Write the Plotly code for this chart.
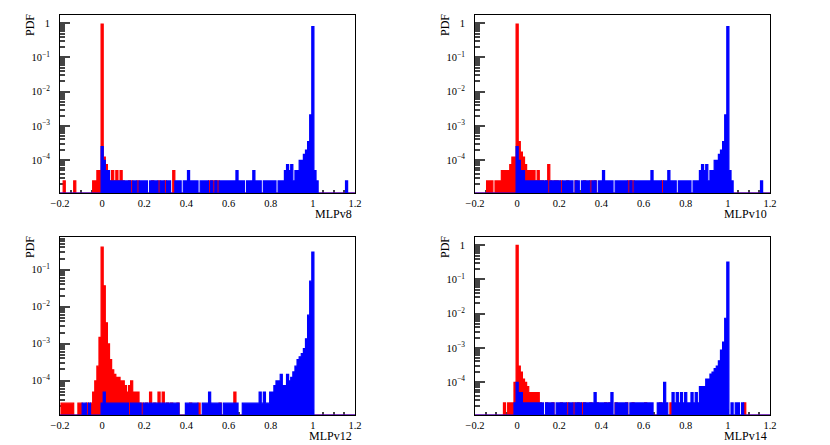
import numpy as np
import plotly.graph_objects as go

# histogram binning: centres -0.20 ... 1.20, width 0.01
BIN_LO = -0.2
BIN_W = 0.01
ENTRY = 2.45e-5   # pdf value of one entry

names = ["MLPv8", "MLPv10", "MLPv12", "MLPv14"]

# entries per bin, red = background, blue = signal
bkg_v8 = [0, 0, 1, 0, 0, 0, 0, 1, 0, 0, 0, 0, 0, 0, 0, 0, 1, 1, 2, 2,
          38800, 5, 3, 2, 1, 2, 1, 2, 1, 2, 1, 0, 0, 1, 1, 0, 0, 1, 0, 0,
          0, 0, 0, 0, 1, 0, 0, 1, 0, 0, 1, 0, 0, 0, 2, 0, 0, 0, 0, 0,
          0, 0, 0, 0, 0, 0, 0, 0, 0, 0, 0, 1, 1, 1, 1, 1, 0, 0, 0, 0,
          0, 0, 0, 0, 0, 0, 0, 0, 0, 0, 0, 0, 0, 0, 0, 0, 0, 0, 0, 0,
          0, 0, 0, 0, 0, 0, 0, 0, 0, 0, 0, 0, 0, 0, 0, 0, 0, 0, 1, 0,
          0, 0, 0, 0, 0, 0, 0, 0, 0, 0, 0, 0, 0, 0, 0, 0, 0, 0, 0, 0,
          0]
sig_v8 = [0, 0, 0, 0, 0, 0, 0, 0, 0, 0, 0, 0, 0, 0, 0, 0, 0, 0, 0, 0,
          10, 4, 2, 2, 1, 1, 1, 1, 1, 1, 1, 1, 1, 1, 0, 1, 1, 0, 1, 1,
          1, 1, 0, 1, 1, 1, 1, 0, 1, 1, 0, 1, 1, 0, 0, 1, 1, 1, 0, 1,
          1, 2, 1, 1, 1, 1, 0, 1, 1, 1, 1, 0, 1, 0, 1, 0, 1, 1, 1, 1,
          1, 1, 1, 1, 2, 1, 1, 1, 0, 1, 1, 1, 2, 1, 1, 1, 0, 1, 1, 1,
          1, 1, 1, 0, 1, 1, 1, 2, 3, 2, 3, 1, 2, 2, 4, 4, 6, 8, 14, 85,
          32650, 2, 1, 0, 0, 0, 0, 0, 0, 0, 0, 0, 0, 0, 0, 0, 1, 0, 0, 0,
          0]

bkg_v10 = [0, 0, 0, 0, 0, 0, 1, 1, 1, 0, 1, 1, 1, 2, 2, 2, 2, 3, 5, 5,
           38800, 14, 7, 5, 3, 2, 2, 2, 2, 1, 2, 1, 1, 0, 1, 3, 1, 0, 1, 1,
           0, 1, 0, 0, 1, 0, 0, 0, 1, 0, 0, 0, 1, 0, 0, 1, 0, 1, 0, 0,
           0, 0, 0, 0, 0, 0, 0, 0, 0, 0, 0, 0, 0, 1, 1, 1, 0, 0, 0, 0,
           0, 0, 0, 0, 0, 0, 0, 0, 0, 1, 0, 0, 0, 0, 0, 0, 0, 0, 0, 0,
           0, 0, 0, 0, 0, 0, 0, 0, 0, 0, 0, 0, 0, 0, 0, 0, 0, 0, 0, 0,
           0, 0, 0, 0, 0, 0, 0, 0, 0, 0, 0, 0, 0, 0, 0, 0, 0, 0, 0, 0,
           0]
sig_v10 = [0, 0, 0, 0, 0, 0, 0, 0, 0, 0, 0, 0, 0, 0, 0, 0, 0, 0, 0, 0,
           10, 4, 2, 2, 1, 1, 1, 1, 1, 1, 1, 1, 1, 1, 1, 0, 1, 1, 1, 1,
           1, 0, 1, 1, 1, 1, 1, 0, 1, 1, 0, 1, 1, 1, 1, 0, 1, 1, 0, 1,
           1, 2, 1, 1, 1, 1, 0, 1, 1, 1, 1, 1, 1, 0, 1, 0, 1, 1, 1, 1,
           1, 1, 1, 1, 2, 1, 1, 1, 1, 0, 1, 1, 2, 1, 1, 1, 0, 1, 1, 1,
           1, 1, 1, 0, 1, 1, 1, 2, 3, 2, 3, 1, 2, 2, 4, 4, 6, 8, 14, 85,
           32650, 2, 1, 0, 0, 0, 0, 0, 0, 0, 0, 0, 0, 0, 0, 0, 1, 0, 0, 0,
           0]

bkg_v12 = [0, 1, 1, 1, 1, 1, 1, 0, 0, 1, 1, 0, 0, 1, 0, 1, 2, 4, 10, 60,
           16700, 1500, 150, 40, 15, 8, 6, 5, 5, 4, 4, 3, 2, 3, 4, 2, 2, 2, 1, 1,
           0, 1, 0, 2, 0, 1, 0, 2, 0, 2, 0, 1, 0, 1, 0, 0, 1, 0, 0, 0,
           0, 0, 1, 0, 0, 0, 1, 0, 0, 0, 0, 1, 0, 0, 0, 0, 1, 0, 0, 0,
           0, 0, 0, 2, 0, 0, 0, 0, 0, 0, 0, 0, 0, 0, 0, 0, 0, 0, 0, 0,
           0, 0, 0, 0, 0, 0, 0, 0, 0, 0, 0, 0, 0, 0, 0, 0, 0, 0, 0, 0,
           0, 0, 0, 0, 0, 0, 0, 0, 0, 0, 0, 0, 0, 0, 0, 0, 0, 0, 0, 0,
           0]
sig_v12 = [0, 0, 0, 0, 0, 0, 0, 0, 0, 0, 0, 1, 1, 0, 1, 0, 0, 0, 0, 0,
           1, 2, 1, 1, 1, 1, 1, 1, 1, 1, 1, 1, 1, 0, 1, 1, 1, 1, 1, 0,
           1, 1, 1, 1, 1, 1, 1, 1, 1, 1, 1, 1, 1, 1, 1, 1, 1, 0, 0, 0,
           1, 1, 1, 1, 1, 1, 0, 0, 1, 1, 1, 2, 1, 1, 1, 1, 1, 0, 1, 1,
           1, 1, 1, 1, 1, 0, 0, 1, 1, 1, 1, 1, 1, 1, 1, 2, 1, 2, 1, 1,
           2, 2, 3, 4, 4, 6, 3, 3, 6, 4, 5, 7, 10, 15, 18, 22, 30, 55, 240, 2000,
           12300, 0, 0, 0, 0, 0, 0, 0, 0, 0, 0, 0, 0, 0, 0, 0, 0, 0, 0, 0,
           0]

bkg_v14 = [0, 0, 0, 0, 0, 0, 0, 0, 0, 0, 0, 0, 0, 0, 1, 0, 1, 1, 1, 4,
           40800, 12, 8, 5, 4, 3, 2, 2, 2, 2, 2, 1, 0, 0, 1, 0, 0, 1, 0, 0,
           0, 1, 0, 0, 1, 0, 0, 1, 0, 1, 0, 1, 1, 0, 0, 1, 0, 0, 1, 0,
           0, 0, 1, 0, 1, 0, 0, 1, 0, 0, 0, 0, 1, 0, 0, 1, 0, 0, 0, 0,
           0, 1, 0, 0, 0, 0, 0, 0, 1, 0, 0, 0, 0, 1, 0, 0, 0, 0, 0, 0,
           0, 0, 0, 0, 0, 0, 0, 0, 0, 0, 0, 0, 1, 0, 0, 1, 0, 0, 0, 0,
           0, 0, 0, 0, 0, 0, 0, 0, 1, 0, 0, 0, 0, 0, 0, 0, 0, 0, 0, 0,
           0]
sig_v14 = [0, 0, 0, 0, 0, 0, 0, 0, 0, 0, 0, 0, 0, 0, 0, 0, 0, 0, 0, 1,
           4, 2, 2, 1, 1, 1, 1, 1, 1, 1, 1, 1, 1, 0, 1, 1, 1, 1, 0, 1,
           1, 1, 1, 1, 0, 1, 1, 0, 1, 1, 1, 0, 1, 1, 1, 1, 1, 2, 1, 1,
           1, 1, 1, 1, 1, 2, 0, 1, 1, 1, 1, 1, 1, 0, 1, 1, 1, 1, 1, 1,
           1, 1, 1, 1, 1, 0, 0, 1, 1, 1, 4, 1, 0, 0, 2, 1, 2, 1, 2, 1,
           2, 1, 1, 2, 1, 2, 1, 3, 3, 3, 5, 5, 7, 8, 10, 12, 17, 35, 60, 300,
           13270, 0, 1, 0, 1, 1, 0, 1, 0, 0, 0, 0, 0, 0, 0, 0, 0, 0, 0, 0,
           0]

backgrounds = [bkg_v8, bkg_v10, bkg_v12, bkg_v14]
signals = [sig_v8, sig_v10, sig_v12, sig_v14]

# log10 y ranges
y_ranges = [[-4.965, 0.243], [-4.965, 0.243], [-4.932, -0.114], [-4.965, 0.243]]

# panel frames in pixels (x0, x1, y0, y1 from top)
W, H = 830, 445
frames = [(60, 355, 15, 193), (475, 770, 15, 193),
          (60, 355, 237, 415), (475, 770, 237, 415)]

FONT = "Liberation Serif"


def step_polygon(counts, floor):
    n = len(counts)
    centres = BIN_LO + BIN_W * np.arange(n)
    xs = [centres[0] - BIN_W / 2]
    ys = [floor]
    for c, v in zip(centres, counts):
        y = max(v * ENTRY, floor)
        xs += [c - BIN_W / 2, c + BIN_W / 2]
        ys += [y, y]
    xs.append(centres[-1] + BIN_W / 2)
    ys.append(floor)
    return xs, ys


fig = go.Figure()
minor_vals = [m * 10.0 ** d for d in range(-6, 1) for m in range(2, 10)]
major_vals = [1e-4, 1e-3, 1e-2, 1e-1, 1]
major_text = ["10<sup>\u22124</sup>", "10<sup>\u22123</sup>", "10<sup>\u22122</sup>",
              "10<sup>\u22121</sup>", "1"]

for i in range(4):
    xa = "x" if i == 0 else "x%d" % (i + 1)
    ya = "y" if i == 0 else "y%d" % (i + 1)
    floor = 10 ** y_ranges[i][0]
    for counts, col in [(backgrounds[i], "#ff0000"), (signals[i], "#0000ff")]:
        xs, ys = step_polygon(counts, floor)
        fig.add_trace(go.Scatter(x=xs, y=ys, mode="lines", fill="toself",
                                 fillcolor=col, line=dict(color=col, width=1.2),
                                 xaxis=xa, yaxis=ya, showlegend=False,
                                 hoverinfo="skip"))

    x0, x1, y0, y1 = frames[i]
    xkey = "xaxis" if i == 0 else "xaxis%d" % (i + 1)
    ykey = "yaxis" if i == 0 else "yaxis%d" % (i + 1)
    fig.layout[xkey] = dict(
        domain=[x0 / W, x1 / W], anchor=ya, range=[-0.2, 1.2], automargin=False,
        dtick=0.2, tick0=0, ticks="inside", ticklen=6, tickwidth=1.5,
        minor=dict(dtick=0.05, ticks="inside", ticklen=3, tickwidth=1.5),
        showline=True, mirror=True, linecolor="black", linewidth=1,
        showgrid=False, zeroline=False, layer="below traces",
        tickfont=dict(family=FONT, size=10.5, color="black"),
        ticklabelstandoff=0)
    fig.layout[ykey] = dict(
        domain=[1 - y1 / H, 1 - y0 / H], anchor=xa, type="log", automargin=False,
        range=y_ranges[i], tickmode="array", tickvals=major_vals,
        ticktext=major_text, ticks="inside", ticklen=10, tickwidth=2,
        minor=dict(tickmode="array", tickvals=minor_vals, ticks="inside",
                   ticklen=5, tickwidth=2),
        showline=True, mirror=True, linecolor="black", linewidth=1,
        showgrid=False, zeroline=False, layer="below traces",
        tickfont=dict(family=FONT, size=10.5, color="black"),
        ticklabelstandoff=7)

    fig.add_annotation(text="PDF", x=(x0 - 30) / W, y=1 - (y0 + 10) / H,
                       xref="paper", yref="paper", textangle=-90,
                       xanchor="center", yanchor="middle", showarrow=False,
                       font=dict(family=FONT, size=12, color="black"))
    fig.add_annotation(text=names[i], x=(x1 - 1) / W, y=1 - (y1 + 21) / H,
                       xref="paper", yref="paper", xanchor="right",
                       yanchor="middle", showarrow=False,
                       font=dict(family=FONT, size=12, color="black"))

fig.update_layout(width=W, height=H, margin=dict(l=0, r=0, t=0, b=0, pad=0),
                  paper_bgcolor="white", plot_bgcolor="white")
fig.write_html("out.html", config={"displayModeBar": False},
               post_script="document.body.style.margin='0px';")
